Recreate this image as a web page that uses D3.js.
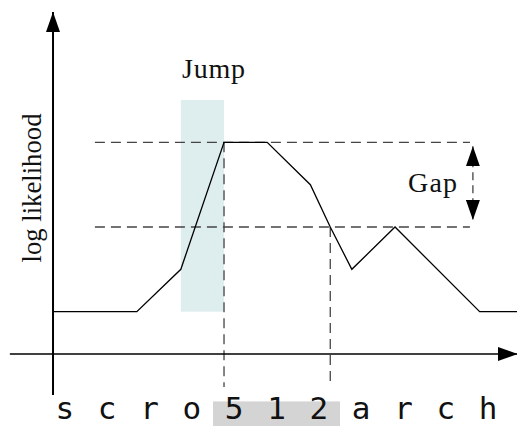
<!DOCTYPE html>
<html>
<head>
<meta charset="utf-8">
<script src="https://cdn.jsdelivr.net/npm/d3@7"></script>
<style>
    body { margin: 0; background: #fff; }
    .serif { font-family: "Liberation Serif", "DejaVu Serif", serif; font-size: 28px; fill: #111; }
    .ylabel { font-family: "Liberation Serif", "DejaVu Serif", serif; font-size: 26.7px; fill: #111; }
    .mono { font-family: "DejaVu Sans Mono", "Liberation Mono", monospace; font-size: 31px; fill: #111; }
</style>
</head>
<body>
<div id="wrapper"></div>
<script>
// data
const letters = ["s", "c", "r", "o", "5", "1", "2", "a", "r", "c", "h"]
const lineX = [0.22, 2.2, 3.24, 4.26, 5.28, 6.3, 6.77, 7.28, 8.3, 10.3, 11.2]
const lineY = [1, 1, 2, 5, 5, 4, 3, 2, 3, 1, 1]
const jumpSpan = [3.24, 4.26]
const jumpTop = 6
const peakLevel = 5
const gapLevel = 3
const highlightSpan = [4, 7]
const dropX = [4.26, 6.77]

async function drawChart() {

    // 1. dimensions
    let dimensions = {
        width: 517,
        height: 426,
    }

    // 2. canvas
    const wrapper = d3.select("#wrapper")
        .append("svg")
        .attr("width", dimensions.width)
        .attr("height", dimensions.height)

    const defs = wrapper.append("defs")
    defs.append("marker")
        .attr("id", "head")
        .attr("viewBox", "0 0 20 14")
        .attr("refX", 20)
        .attr("refY", 7)
        .attr("markerWidth", 20)
        .attr("markerHeight", 14)
        .attr("markerUnits", "userSpaceOnUse")
        .attr("orient", "auto-start-reverse")
        .append("path")
        .attr("d", "M0,0 L20,7 L0,14 Z")
        .attr("fill", "#000")

    // 3. scales
    const xScale = d3.scaleLinear()
        .domain([0, 11])
        .range([43.7, 509.3])

    const yScale = d3.scaleLinear()
        .domain([0, 6])
        .range([354, 100])

    // 4. peripherals behind the line
    wrapper.append("rect")
        .attr("x", xScale(jumpSpan[0]))
        .attr("y", yScale(jumpTop))
        .attr("width", xScale(jumpSpan[1]) - xScale(jumpSpan[0]))
        .attr("height", yScale(1) - yScale(jumpTop))
        .attr("fill", "#deeded")

    wrapper.append("rect")
        .attr("x", xScale(highlightSpan[0]))
        .attr("y", yScale(-1.12))
        .attr("width", xScale(highlightSpan[1]) - xScale(highlightSpan[0]))
        .attr("height", 26)
        .attr("fill", "#d4d4d4")

    const dashed = wrapper.append("g")
        .attr("stroke", "#444")
        .attr("stroke-width", 1.3)
        .attr("stroke-dasharray", "10,6")

    dashed.selectAll("line.h")
        .data([peakLevel, gapLevel])
        .enter().append("line")
        .attr("x1", xScale(1.21))
        .attr("x2", xScale(10.07))
        .attr("y1", d => yScale(d))
        .attr("y2", d => yScale(d))

    dashed.selectAll("line.v")
        .data([[dropX[0], peakLevel], [dropX[1], gapLevel]])
        .enter().append("line")
        .attr("x1", d => xScale(d[0]))
        .attr("x2", d => xScale(d[0]))
        .attr("y1", d => yScale(d[1]))
        .attr("y2", yScale(-0.78))

    // 5. the curve
    const lineGenerator = d3.line()
        .x(d => xScale(d[0]))
        .y(d => yScale(d[1]))

    wrapper.append("path")
        .attr("d", lineGenerator(d3.zip(lineX, lineY)))
        .attr("fill", "none")
        .attr("stroke", "#000")
        .attr("stroke-width", 1.3)

    // 6. axes
    wrapper.append("line")
        .attr("x1", xScale(0.22))
        .attr("x2", xScale(0.22))
        .attr("y1", yScale(-0.97))
        .attr("y2", yScale(8.08))
        .attr("stroke", "#000")
        .attr("stroke-width", 2)
        .attr("marker-end", "url(#head)")

    wrapper.append("line")
        .attr("x1", xScale(-0.8))
        .attr("x2", xScale(11.2))
        .attr("y1", yScale(0))
        .attr("y2", yScale(0))
        .attr("stroke", "#000")
        .attr("stroke-width", 1.3)
        .attr("marker-end", "url(#head)")

    // gap arrow
    wrapper.append("line")
        .attr("x1", xScale(10.14))
        .attr("x2", xScale(10.14))
        .attr("y1", yScale(peakLevel) + 4)
        .attr("y2", yScale(gapLevel) - 7)
        .attr("stroke", "#444")
        .attr("stroke-width", 1.3)
        .attr("stroke-dasharray", "8,5")
        .attr("marker-start", "url(#head)")
        .attr("marker-end", "url(#head)")

    // 7. labels
    wrapper.append("text")
        .attr("class", "serif")
        .attr("x", 182)
        .attr("y", 78)
        .attr("textLength", 63)
        .text("Jump")

    wrapper.append("text")
        .attr("class", "serif")
        .attr("x", 408)
        .attr("y", (yScale(peakLevel) + yScale(gapLevel)) / 2 + 7)
        .attr("textLength", 49)
        .text("Gap")

    wrapper.append("text")
        .attr("class", "ylabel")
        .attr("transform", `translate(41, 188) rotate(-90)`)
        .attr("text-anchor", "middle")
        .text("log likelihood")

    wrapper.selectAll("text.letter")
        .data(letters)
        .enter().append("text")
        .attr("class", "mono")
        .attr("x", (d, i) => xScale(i + 0.5))
        .attr("y", 419)
        .attr("text-anchor", "middle")
        .text(d => d)
}

drawChart()
</script>
</body>
</html>
